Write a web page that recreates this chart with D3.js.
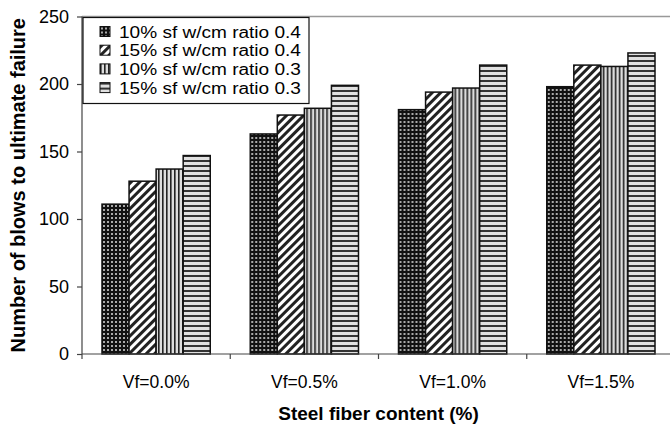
<!DOCTYPE html>
<html>
<head>
<meta charset="utf-8">
<script src="https://cdn.jsdelivr.net/npm/d3@7"></script>
<style>
  body { margin: 0; background: #fff; }
  svg { display: block; font-family: Arial, "Liberation Sans", sans-serif; }
</style>
</head>
<body>
<div id="chart"></div>
<script>
// chart data
const categories = ["Vf=0.0%", "Vf=0.5%", "Vf=1.0%", "Vf=1.5%"];
const seriesNames = [
  "10% sf w/cm ratio 0.4",
  "15% sf w/cm ratio 0.4",
  "10% sf w/cm ratio 0.3",
  "15% sf w/cm ratio 0.3"
];
const sf10wc04 = [111, 163, 181, 198];
const sf15wc04 = [128, 177, 194, 214];
const sf10wc03 = [137, 182, 197, 213];
const sf15wc03 = [147, 199, 214, 223];
const yTicks = [0, 50, 100, 150, 200, 250];

const seriesValues = [sf10wc04, sf15wc04, sf10wc03, sf15wc03];

const width = 670, height = 427;
const margin = {left: 82, top: 16.5, right: -5, bottom: 73};

const svg = d3.select("#chart").append("svg")
  .attr("width", width)
  .attr("height", height);

// fill patterns, one per series
const defs = svg.append("defs");

const p0 = defs.append("pattern").attr("id", "pat0")
  .attr("patternUnits", "userSpaceOnUse").attr("width", 4).attr("height", 4);
p0.append("rect").attr("width", 4).attr("height", 4).attr("fill", "#111");
p0.append("rect").attr("x", 1).attr("y", 1).attr("width", 2).attr("height", 2).attr("fill", "#aaa");

const p1 = defs.append("pattern").attr("id", "pat1")
  .attr("patternUnits", "userSpaceOnUse").attr("width", 6).attr("height", 6)
  .attr("patternTransform", "rotate(45)");
p1.append("rect").attr("width", 6).attr("height", 6).attr("fill", "#fff");
p1.append("rect").attr("width", 3).attr("height", 6).attr("fill", "#222");

const p2 = defs.append("pattern").attr("id", "pat2")
  .attr("patternUnits", "userSpaceOnUse").attr("width", 4).attr("height", 4);
p2.append("rect").attr("width", 4).attr("height", 4).attr("fill", "#ddd");
p2.append("rect").attr("width", 1.6).attr("height", 4).attr("fill", "#222");

const p3 = defs.append("pattern").attr("id", "pat3")
  .attr("patternUnits", "userSpaceOnUse").attr("width", 5).attr("height", 5);
p3.append("rect").attr("width", 5).attr("height", 5).attr("fill", "#e0e0e0");
p3.append("rect").attr("width", 5).attr("height", 2).attr("fill", "#333");

const x = d3.scaleBand()
  .domain(categories)
  .range([margin.left, width - margin.right])
  .padding(0);

const xs = d3.scaleBand()
  .domain(d3.range(seriesNames.length))
  .range([20, x.bandwidth() - 20])
  .padding(0);

const y = d3.scaleLinear()
  .domain([0, 250])
  .range([height - margin.bottom, margin.top]);

// plot area top border
svg.append("line")
  .attr("x1", margin.left).attr("x2", width)
  .attr("y1", y(250)).attr("y2", y(250))
  .attr("stroke", "#999").attr("stroke-width", 1.5);

// bars
const groups = svg.append("g").selectAll("g")
  .data(categories)
  .join("g")
  .attr("transform", d => `translate(${x(d)},0)`);

groups.selectAll("rect")
  .data((c, ci) => seriesValues.map((vals, si) => ({si, v: vals[ci]})))
  .join("rect")
  .attr("x", d => xs(d.si))
  .attr("width", xs.bandwidth())
  .attr("y", d => y(d.v))
  .attr("height", d => y(0) - y(d.v))
  .attr("fill", d => `url(#pat${d.si})`)
  .attr("stroke", "#111")
  .attr("stroke-width", 1.5);

// y axis
const yAxis = svg.append("g")
  .attr("transform", `translate(${margin.left},0)`)
  .call(d3.axisLeft(y).tickValues(yTicks).tickSize(5).tickPadding(8));
yAxis.selectAll("path, line").attr("stroke", "#444").attr("stroke-width", 1.2);
yAxis.select(".domain").attr("d", `M0,${y(250)}V${y(0)}`);
yAxis.selectAll("text").attr("font-size", 18).attr("fill", "#000")
  .attr("font-family", "Arial, 'Liberation Sans', sans-serif");

// x axis: baseline with ticks at category boundaries
const xAxis = svg.append("g");
xAxis.append("line")
  .attr("x1", margin.left).attr("x2", width)
  .attr("y1", y(0)).attr("y2", y(0))
  .attr("stroke", "#444").attr("stroke-width", 1.2);
xAxis.selectAll("line.tick")
  .data(categories)
  .join("line")
  .attr("class", "tick")
  .attr("x1", d => x(d)).attr("x2", d => x(d))
  .attr("y1", y(0)).attr("y2", y(0) + 5)
  .attr("stroke", "#444").attr("stroke-width", 1.2);
xAxis.selectAll("text")
  .data(categories)
  .join("text")
  .attr("x", d => x(d) + x.bandwidth() / 2)
  .attr("y", y(0) + 34)
  .attr("text-anchor", "middle")
  .attr("font-size", 17.5)
  .text(d => d);

// axis titles
svg.append("text")
  .attr("x", (margin.left + width - margin.right) / 2).attr("y", 420)
  .attr("text-anchor", "middle")
  .attr("font-size", 19).attr("font-weight", "bold")
  .text("Steel fiber content (%)");

svg.append("text")
  .attr("transform", `translate(25,${(y(0) + y(250)) / 2}) rotate(-90)`)
  .attr("text-anchor", "middle")
  .attr("font-size", 20).attr("font-weight", "bold")
  .text("Number of blows to ultimate failure");

// legend
const legend = svg.append("g").attr("transform", "translate(83,17.5)");
legend.append("rect")
  .attr("width", 226).attr("height", 86)
  .attr("fill", "#fff").attr("stroke", "#111").attr("stroke-width", 1.2);
const li = legend.selectAll("g.item")
  .data(seriesNames)
  .join("g")
  .attr("class", "item")
  .attr("transform", (d, i) => `translate(17,${9 + i * 18.7})`);
li.append("rect")
  .attr("width", 10).attr("height", 10)
  .attr("fill", (d, i) => `url(#pat${i})`)
  .attr("stroke", "#111").attr("stroke-width", 1);
li.append("text")
  .attr("transform", "translate(19,11) scale(1.19,1)")
  .attr("font-size", 16)
  .text(d => d);
</script>
</body>
</html>
